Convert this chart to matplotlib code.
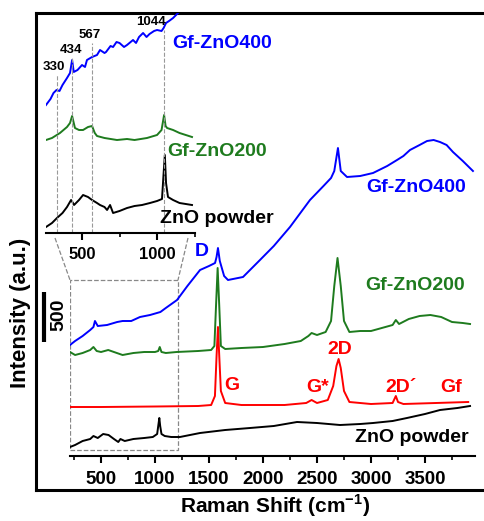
import numpy as np
import matplotlib
matplotlib.use('Agg')
import matplotlib.pyplot as plt
from matplotlib.lines import Line2D
from matplotlib.patches import Rectangle
from matplotlib.ticker import MultipleLocator

plt.rcParams['font.family'] = ['Liberation Sans', 'DejaVu Sans']
plt.rcParams['font.weight'] = 'bold'
plt.rcParams['mathtext.fontset'] = 'custom'
plt.rcParams['mathtext.rm'] = 'Liberation Sans'
plt.rcParams['mathtext.bf'] = 'Liberation Sans:bold'

BLUE = '#0000ff'
GREEN = '#1e7b1e'
RED = '#ff0000'

# main spectra (Raman shift, intensity)
zno_x = [213, 260, 330, 400, 430, 470, 520, 570, 620, 660, 680, 720, 800, 900, 980, 1020, 1040, 1048, 1060,
         1090, 1150, 1231, 1417, 1650, 1880, 2100, 2315, 2500, 2713, 2900, 3019, 3200, 3333, 3500, 3639, 3800, 3917]
zno_y = [90, 110, 150, 170, 200, 180, 220, 210, 170, 140, 170, 150, 170, 180, 190, 220, 380, 300, 220,
         200, 190, 190, 230, 260, 280, 300, 340, 330, 310, 320, 330, 350, 380, 420, 460, 480, 500]

gf_x = [213, 500, 1000, 1400, 1520, 1555, 1570, 1583, 1595, 1610, 1650, 1800, 2200, 2400, 2450, 2500, 2600,
        2650, 2680, 2700, 2720, 2750, 2800, 3000, 3200, 3230, 3250, 3300, 3600, 3900]
gf_y = [490, 490, 495, 500, 510, 600, 1000, 1290, 1000, 650, 530, 510, 510, 530, 560, 530, 560,
        700, 900, 970, 880, 650, 540, 520, 530, 600, 540, 520, 530, 540]

g200_x = [213, 260, 330, 400, 430, 460, 500, 567, 620, 700, 800, 900, 1000, 1030, 1044, 1060, 1100, 1200,
          1400, 1520, 1550, 1565, 1580, 1595, 1610, 1650, 1800, 2000, 2200, 2350, 2420, 2450, 2500, 2580,
          2630, 2660, 2690, 2720, 2750, 2800, 2900, 3000, 3100, 3200, 3230, 3260, 3350, 3450, 3550, 3650,
          3750, 3850, 3917]
g200_y = [1040, 1010, 1030, 1060, 1090, 1050, 1040, 1060, 1040, 1010, 1030, 1040, 1040, 1050, 1090, 1040, 1030, 1040,
          1050, 1060, 1100, 1500, 1880, 1500, 1100, 1070, 1080, 1090, 1120, 1150, 1200, 1230, 1210, 1240,
          1350, 1700, 1980, 1700, 1350, 1240, 1250, 1250, 1280, 1310, 1360, 1320, 1370, 1400, 1410, 1390,
          1340, 1330, 1320]

g400_x = [213, 260, 330, 400, 430, 444, 470, 556, 650, 700, 780, 861, 954, 1050, 1100, 1204, 1300, 1417, 1500,
          1556, 1570, 1583, 1600, 1640, 1676, 1815, 1972, 2100, 2250, 2435, 2560, 2630, 2660, 2694, 2720, 2778,
          2900, 3019, 3150, 3241, 3300, 3361, 3450, 3519, 3580, 3639, 3700, 3759, 3850, 3944]
g400_y = [1110, 1150, 1200, 1260, 1290, 1350, 1300, 1310, 1340, 1350, 1350, 1390, 1410, 1440, 1480, 1560, 1700, 1860, 1900,
          1930, 1990, 2080, 1950, 1800, 1760, 1790, 1960, 2100, 2290, 2560, 2700, 2780, 2850, 3080, 2850, 2790,
          2800, 2830, 2900, 2960, 3000, 3060, 3110, 3150, 3160, 3140, 3110, 3040, 2950, 2850]

# inset spectra (low shift region)
in_g400_x = [260, 290, 310, 330, 350, 370, 400, 420, 434, 445, 470, 500, 520, 533, 567, 600, 620, 650, 660, 690,
             707, 730, 750, 780, 800, 840, 860, 880, 907, 930, 950, 980, 1000, 1030, 1044, 1060, 1080, 1107,
             1153, 1200, 1250]
in_g400_y = [128, 134, 140, 143, 142, 148, 155, 160, 173, 161, 163, 168, 166, 173, 176, 178, 183, 180, 181, 187,
             186, 191, 190, 186, 188, 193, 190, 196, 200, 196, 199, 202, 203, 202, 205, 210, 212, 215,
             222, 232, 240]

in_g200_x = [260, 300, 353, 400, 420, 434, 453, 480, 507, 540, 567, 585, 600, 650, 733, 800, 850, 933, 1000,
             1030, 1047, 1057, 1067, 1107, 1150, 1233]
in_g200_y = [93, 95, 100, 106, 110, 117, 105, 103, 103, 106, 107, 100, 97, 95, 93, 94, 93, 95, 98,
             103, 118, 107, 105, 103, 100, 96]

in_zno_x = [260, 300, 333, 370, 400, 427, 440, 447, 480, 507, 540, 567, 600, 620, 650, 667, 687, 707, 750, 800,
            850, 900, 953, 1000, 1033, 1044, 1052, 1060, 1073, 1107, 1150, 1233]
in_zno_y = [6, 10, 15, 20, 26, 33, 30, 28, 33, 38, 36, 33, 30, 28, 26, 23, 28, 20, 22, 25,
            27, 28, 30, 32, 34, 60, 78, 50, 36, 33, 30, 28]

marks = [330, 434, 567, 1044]
mark_tops = [158, 175, 190, 203]
mark_lab_x = [313, 427, 553, 960]
mark_lab_y = [166, 183, 198, 211]

W, H = 484, 521


def px_rect(x0, y0, x1, y1):
    return [x0 / W, 1 - y1 / H, (x1 - x0) / W, (y1 - y0) / H]


fig = plt.figure(figsize=(W / 100, H / 100), dpi=100)

# outer frame
frame = fig.add_axes(px_rect(36, 13, 490, 490))
frame.set_xticks([])
frame.set_yticks([])
frame.spines['right'].set_visible(False)
for s in ['left', 'top', 'bottom']:
    frame.spines[s].set_linewidth(2.2)
frame.patch.set_alpha(0)

ax = fig.add_axes(px_rect(70, 13, 475, 456))
ax.patch.set_alpha(0)
for s in ['left', 'top', 'right']:
    ax.spines[s].set_visible(False)
ax.spines['bottom'].set_linewidth(1.5)
ax.set_yticks([])
ax.set_xlim(213, 3963)
ax.set_ylim(0, 4430)
ax.xaxis.set_major_locator(MultipleLocator(500))
ax.xaxis.set_minor_locator(MultipleLocator(250))
ax.tick_params(axis='x', which='major', length=5, width=1.5, labelsize=13.5, pad=6)
ax.tick_params(axis='x', which='minor', length=3, width=1.2)

ax.plot(zno_x, zno_y, color='black', lw=1.4)
ax.plot(gf_x, gf_y, color=RED, lw=1.4)
ax.plot(g200_x, g200_y, color=GREEN, lw=1.4)
ax.plot(g400_x, g400_y, color=BLUE, lw=1.4)

ax.add_patch(Rectangle((213, 60), 1000, 1700, fill=False, ls='--', lw=0.9, ec='#888888'))

ax.text(2960, 2680, 'Gf-ZnO400', color=BLUE, fontsize=14, fontweight='bold', va='center')
ax.text(2944, 1710, 'Gf-ZnO200', color=GREEN, fontsize=14, fontweight='bold', va='center')
ax.text(2850, 190, 'ZnO powder', color='black', fontsize=14, fontweight='bold', va='center')
ax.text(1370, 2040, 'D', color=BLUE, fontsize=14, fontweight='bold', va='center')
ax.text(1640, 710, 'G', color=RED, fontsize=14, fontweight='bold', va='center')
ax.text(2400, 680, 'G*', color=RED, fontsize=14, fontweight='bold', va='center')
ax.text(2600, 1070, '2D', color=RED, fontsize=14, fontweight='bold', va='center')
ax.text(3130, 680, '2D\u00b4', color=RED, fontsize=14, fontweight='bold', va='center')
ax.text(3640, 680, 'Gf', color=RED, fontsize=14, fontweight='bold', va='center')

# scale bar
ax.plot([-28, -28], [1140, 1640], color='black', lw=3, clip_on=False, solid_capstyle='butt')
ax.text(110, 1410, '500', rotation=90, fontsize=14, fontweight='bold', ha='center', va='center')

fig.text(21 / W, 1 - 313 / H, 'Intensity (a.u.)', rotation=90, fontsize=16, fontweight='bold',
         ha='center', va='center')
fig.text(275 / W, 1 - 506 / H, r'Raman Shift (cm$^{\mathbf{-1}}$)', fontsize=15, fontweight='bold',
         ha='center', va='center')

# inset
axi = fig.add_axes(px_rect(46, 13, 195, 233))
axi.patch.set_alpha(0)
for s in ['left', 'top', 'right']:
    axi.spines[s].set_visible(False)
axi.spines['bottom'].set_linewidth(1.5)
axi.set_yticks([])
axi.set_xlim(260, 1253)
axi.set_ylim(0, 220)
axi.xaxis.set_major_locator(MultipleLocator(500))
axi.xaxis.set_minor_locator(MultipleLocator(250))
axi.tick_params(axis='x', which='major', length=5, width=1.5, labelsize=12, pad=5)
axi.tick_params(axis='x', which='minor', length=3, width=1.2)

axi.plot(in_zno_x, in_zno_y, color='black', lw=1.4)
axi.plot(in_g200_x, in_g200_y, color=GREEN, lw=1.4)
axi.plot(in_g400_x, in_g400_y, color=BLUE, lw=1.4)
axi.vlines(marks, 0, mark_tops, colors='#999999', linestyles='--', lw=0.8)
for lx, ly, m in zip(mark_lab_x, mark_lab_y, marks):
    axi.text(lx, ly, str(m), fontsize=9.5, fontweight='bold', ha='center', va='center')

fig.text(172 / W, 1 - 44 / H, 'Gf-ZnO400', color=BLUE, fontsize=14, fontweight='bold', va='center')
fig.text(167 / W, 1 - 152 / H, 'Gf-ZnO200', color=GREEN, fontsize=14, fontweight='bold', va='center')
fig.text(160 / W, 1 - 218 / H, 'ZnO powder', color='black', fontsize=14, fontweight='bold', va='center')

# connectors between inset and zoom box
for (xa, ya), (xb, yb) in [((55, 238), (70, 280)), ((188, 238), (178, 280))]:
    fig.add_artist(Line2D([xa / W, xb / W], [1 - ya / H, 1 - yb / H], transform=fig.transFigure,
                          color='#888888', ls='--', lw=0.9))

fig.savefig('out.png', dpi=100)
